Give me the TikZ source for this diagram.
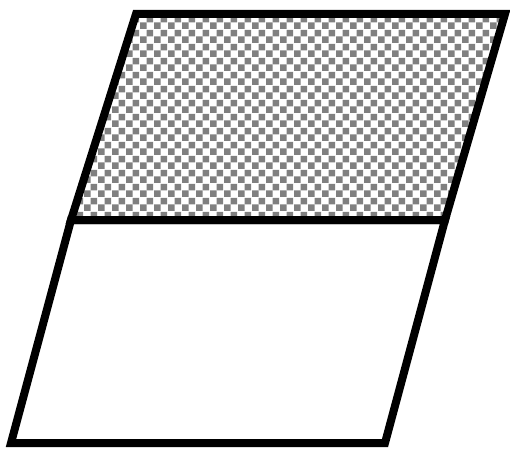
\documentclass[tikz,border=0pt]{standalone}
\usetikzlibrary{patterns.meta}
\tikzdeclarepattern{
  name=chk,
  type=uncolored,
  bounding box={(0pt,0pt) and (14pt,14pt)},
  tile size={(14pt,14pt)},
  code={
    \fill (0pt,0pt) rectangle (7pt,7pt);
    \fill (7pt,7pt) rectangle (14pt,14pt);
  }
}
\tikzset{
  edge/.style={draw=black, line width=8pt, line join=miter},
  hatched/.style={pattern=chk, pattern color=black!50}
}
\begin{document}
\begin{tikzpicture}[x=1pt,y=1pt]
\useasboundingbox (0,0) rectangle (510,448);
% corners (image coords converted: y = 448 - y_img)
\coordinate (A) at (136,434);
\coordinate (B) at (505,434);
\coordinate (C) at (445,228);
\coordinate (D) at (71,228);
\coordinate (E) at (385,5);
\coordinate (F) at (11,5);
\fill[white] (A) -- (B) -- (C) -- (D) -- cycle;
\fill[hatched] (A) -- (B) -- (C) -- (D) -- cycle;
\draw[edge] (A) -- (B) -- (C) -- (D) -- cycle;
\draw[edge] (D) -- (C) -- (E) -- (F) -- cycle;
\end{tikzpicture}
\end{document}
